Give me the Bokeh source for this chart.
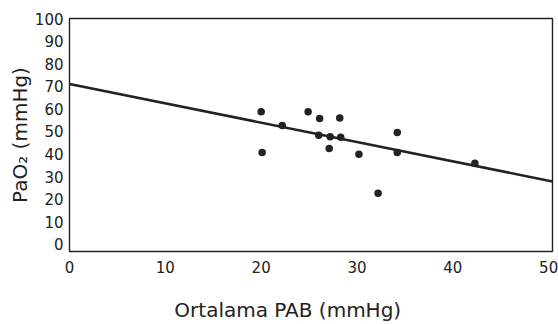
from bokeh.plotting import figure
from bokeh.models import Range1d, FixedTicker, ColumnDataSource
from bokeh.embed import file_html
from bokeh.resources import INLINE

# Data
pab = [20.0, 20.1, 22.2, 24.9, 26.1, 28.2, 26.0, 27.2, 28.3, 27.1, 30.2, 34.2, 34.2, 32.2, 42.3]
pao2 = [58.7, 40.6, 52.6, 58.7, 55.7, 55.9, 48.3, 47.6, 47.4, 42.4, 39.9, 49.5, 40.6, 22.6, 35.9]
fit_intercept = 71.0
fit_slope = -0.857
x_ticks = [0, 10, 20, 30, 40, 50]
y_ticks = [0, 10, 20, 30, 40, 50, 60, 70, 80, 90, 100]
x_label = "Ortalama PAB (mmHg)"
y_label = "PaO\u2082 (mmHg)"

X0, X1 = 0, 50.4
Y0, Y1 = -3.2, 100

FONT = "DejaVu Sans"
INK = "#222222"

p = figure(width=558, height=324, output_backend="svg", toolbar_location=None,
           x_range=Range1d(X0, X1), y_range=Range1d(Y0, Y1),
           min_border_left=69, min_border_right=6, min_border_top=18, min_border_bottom=73)

p.background_fill_color = "white"
p.border_fill_color = "white"
p.grid.visible = False
p.outline_line_color = INK
p.outline_line_width = 1.4
p.outline_line_alpha = 1.0

for ax in (p.xaxis[0], p.yaxis[0]):
    ax.axis_line_color = None
    ax.major_tick_in = 0
    ax.major_tick_out = 0
    ax.minor_tick_in = 0
    ax.minor_tick_out = 0
    ax.major_label_text_font = FONT
    ax.major_label_text_font_size = "15px"
    ax.major_label_text_color = INK
    ax.axis_label_text_font = FONT
    ax.axis_label_text_font_size = "20px"
    ax.axis_label_text_font_style = "normal"
    ax.axis_label_text_color = INK

p.xaxis.ticker = FixedTicker(ticks=x_ticks)
p.yaxis.ticker = FixedTicker(ticks=y_ticks)
p.xaxis.major_label_standoff = 9
p.yaxis.major_label_standoff = 6

p.yaxis.axis_label = y_label
p.yaxis.axis_label_standoff = 0

# the reference centres its x title left of the frame centre: pad on the right
p.xaxis.axis_label = x_label + "\u00a0" * 7 + "\u200a"
p.xaxis.axis_label_standoff = 22

line_x = [X0, X1]
line_y = [fit_intercept + fit_slope * v for v in line_x]
p.line(line_x, line_y, line_width=2.6, color=INK)

src = ColumnDataSource(dict(x=pab, y=pao2))
p.scatter("x", "y", source=src, size=7.5, color=INK, line_color=None)

open("out.html", "w").write(file_html(p, INLINE))
